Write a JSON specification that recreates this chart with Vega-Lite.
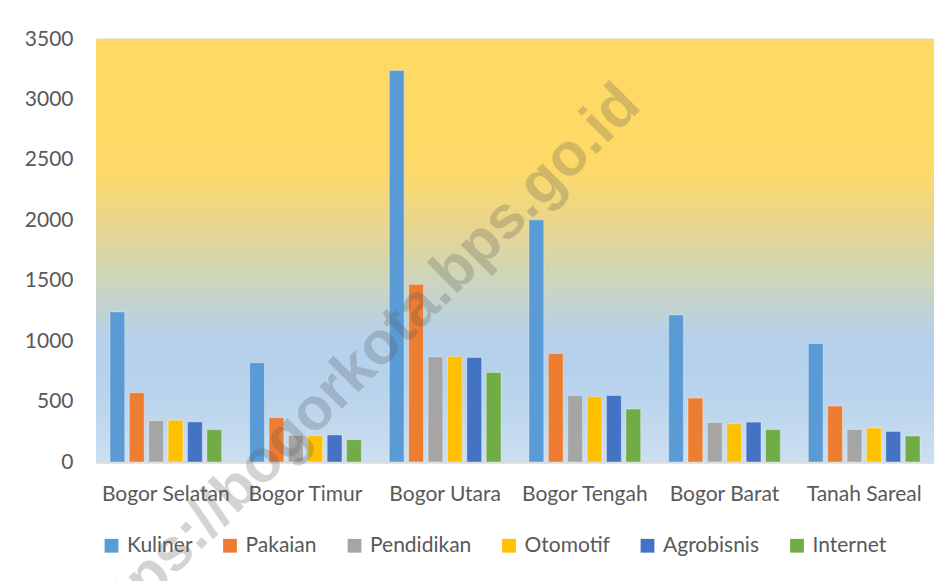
{
  "$schema": "https://vega.github.io/schema/vega-lite/v6.json",
  "width": 838,
  "height": 423,
  "autosize": {"type": "none"},
  "padding": {"left": 96, "top": 39, "right": 0, "bottom": 119},
  "background": "white",
  "config": {
    "view": {"stroke": null},
    "font": "Lato",
    "axis": {"labelFont": "Lato", "labelColor": "#595959", "labelFontSize": 21, "titleFontSize": 0},
    "legend": {"labelFont": "Lato", "labelColor": "#595959", "labelFontSize": 21}
  },
  "datasets": {
    "bars": [
      {"wilayah": "Bogor Selatan", "sektor": "Kuliner", "jumlah": 1242},
      {"wilayah": "Bogor Selatan", "sektor": "Pakaian", "jumlah": 572},
      {"wilayah": "Bogor Selatan", "sektor": "Pendidikan", "jumlah": 342},
      {"wilayah": "Bogor Selatan", "sektor": "Otomotif", "jumlah": 345},
      {"wilayah": "Bogor Selatan", "sektor": "Agrobisnis", "jumlah": 332},
      {"wilayah": "Bogor Selatan", "sektor": "Internet", "jumlah": 268},
      {"wilayah": "Bogor Timur", "sektor": "Kuliner", "jumlah": 822},
      {"wilayah": "Bogor Timur", "sektor": "Pakaian", "jumlah": 367},
      {"wilayah": "Bogor Timur", "sektor": "Pendidikan", "jumlah": 221},
      {"wilayah": "Bogor Timur", "sektor": "Otomotif", "jumlah": 218},
      {"wilayah": "Bogor Timur", "sektor": "Agrobisnis", "jumlah": 224},
      {"wilayah": "Bogor Timur", "sektor": "Internet", "jumlah": 185},
      {"wilayah": "Bogor Utara", "sektor": "Kuliner", "jumlah": 3240},
      {"wilayah": "Bogor Utara", "sektor": "Pakaian", "jumlah": 1470},
      {"wilayah": "Bogor Utara", "sektor": "Pendidikan", "jumlah": 870},
      {"wilayah": "Bogor Utara", "sektor": "Otomotif", "jumlah": 872},
      {"wilayah": "Bogor Utara", "sektor": "Agrobisnis", "jumlah": 864},
      {"wilayah": "Bogor Utara", "sektor": "Internet", "jumlah": 740},
      {"wilayah": "Bogor Tengah", "sektor": "Kuliner", "jumlah": 2004},
      {"wilayah": "Bogor Tengah", "sektor": "Pakaian", "jumlah": 897},
      {"wilayah": "Bogor Tengah", "sektor": "Pendidikan", "jumlah": 550},
      {"wilayah": "Bogor Tengah", "sektor": "Otomotif", "jumlah": 539},
      {"wilayah": "Bogor Tengah", "sektor": "Agrobisnis", "jumlah": 550},
      {"wilayah": "Bogor Tengah", "sektor": "Internet", "jumlah": 438},
      {"wilayah": "Bogor Barat", "sektor": "Kuliner", "jumlah": 1217},
      {"wilayah": "Bogor Barat", "sektor": "Pakaian", "jumlah": 529},
      {"wilayah": "Bogor Barat", "sektor": "Pendidikan", "jumlah": 327},
      {"wilayah": "Bogor Barat", "sektor": "Otomotif", "jumlah": 316},
      {"wilayah": "Bogor Barat", "sektor": "Agrobisnis", "jumlah": 330},
      {"wilayah": "Bogor Barat", "sektor": "Internet", "jumlah": 269},
      {"wilayah": "Tanah Sareal", "sektor": "Kuliner", "jumlah": 980},
      {"wilayah": "Tanah Sareal", "sektor": "Pakaian", "jumlah": 463},
      {"wilayah": "Tanah Sareal", "sektor": "Pendidikan", "jumlah": 269},
      {"wilayah": "Tanah Sareal", "sektor": "Otomotif", "jumlah": 281},
      {"wilayah": "Tanah Sareal", "sektor": "Agrobisnis", "jumlah": 253},
      {"wilayah": "Tanah Sareal", "sektor": "Internet", "jumlah": 215}
    ],
    "bg": [{"k": 1}],
    "wm": [{"teks": "https://bogorkota.bps.go.id"}]
  },
  "layer": [
    {
      "data": {"name": "bg"},
      "mark": {
        "type": "rect",
        "color": {
          "gradient": "linear",
          "x1": 0, "y1": 0, "x2": 0, "y2": 1,
          "stops": [
            {"offset": 0, "color": "#FFD966"},
            {"offset": 0.3, "color": "#FED967"},
            {"offset": 0.43, "color": "#EAD68A"},
            {"offset": 0.575, "color": "#CCD5BE"},
            {"offset": 0.71, "color": "#B4D0EB"},
            {"offset": 0.85, "color": "#B9D4EC"},
            {"offset": 1, "color": "#CCDFF1"}
          ]
        }
      },
      "encoding": {}
    },
    {
      "data": {"name": "bars"},
      "mark": {"type": "bar", "stroke": "white", "strokeOpacity": 0.35, "strokeWidth": 1},
      "encoding": {
        "x": {
          "field": "wilayah", "type": "nominal", "sort": null,
          "scale": {"paddingInner": 0.2, "paddingOuter": 0.1},
          "axis": {"title": null, "labelAngle": 0, "ticks": false, "domain": true, "domainColor": "#D9D9D9", "domainWidth": 2, "labelPadding": 21}
        },
        "xOffset": {
          "field": "sektor", "type": "nominal",
          "sort": ["Kuliner", "Pakaian", "Pendidikan", "Otomotif", "Agrobisnis", "Internet"],
          "scale": {"paddingInner": 0.235, "paddingOuter": 0}
        },
        "y": {
          "field": "jumlah", "type": "quantitative",
          "scale": {"domain": [0, 3500], "nice": false},
          "axis": {"title": null, "format": "d", "values": [0, 500, 1000, 1500, 2000, 2500, 3000, 3500], "ticks": false, "domain": false, "grid": true, "gridColor": "#D9D9D9", "gridWidth": 2, "labelPadding": 23}
        },
        "color": {
          "field": "sektor", "type": "nominal",
          "sort": ["Kuliner", "Pakaian", "Pendidikan", "Otomotif", "Agrobisnis", "Internet"],
          "scale": {
            "domain": ["Kuliner", "Pakaian", "Pendidikan", "Otomotif", "Agrobisnis", "Internet"],
            "range": ["#5B9BD5", "#ED7D31", "#A5A5A5", "#FFC000", "#4472C4", "#70AD47"]
          },
          "legend": {
            "title": null, "orient": "bottom", "direction": "horizontal",
            "symbolType": "square", "symbolSize": 190, "symbolStrokeWidth": 0,
            "labelOffset": 5, "columnPadding": 26.5, "offset": 26, "padding": 5
          }
        }
      }
    },
    {
      "data": {"name": "wm"},
      "mark": {
        "type": "text", "angle": -45, "align": "center", "baseline": "middle",
        "font": "Liberation Sans", "fontWeight": "bold", "fontSize": 60,
        "color": "#555555", "opacity": 0.25, "dx": 42, "dy": 29
      },
      "encoding": {
        "x": {"datum": "Bogor Timur"},
        "y": {"datum": 690},
        "text": {"field": "teks"}
      }
    }
  ]
}
